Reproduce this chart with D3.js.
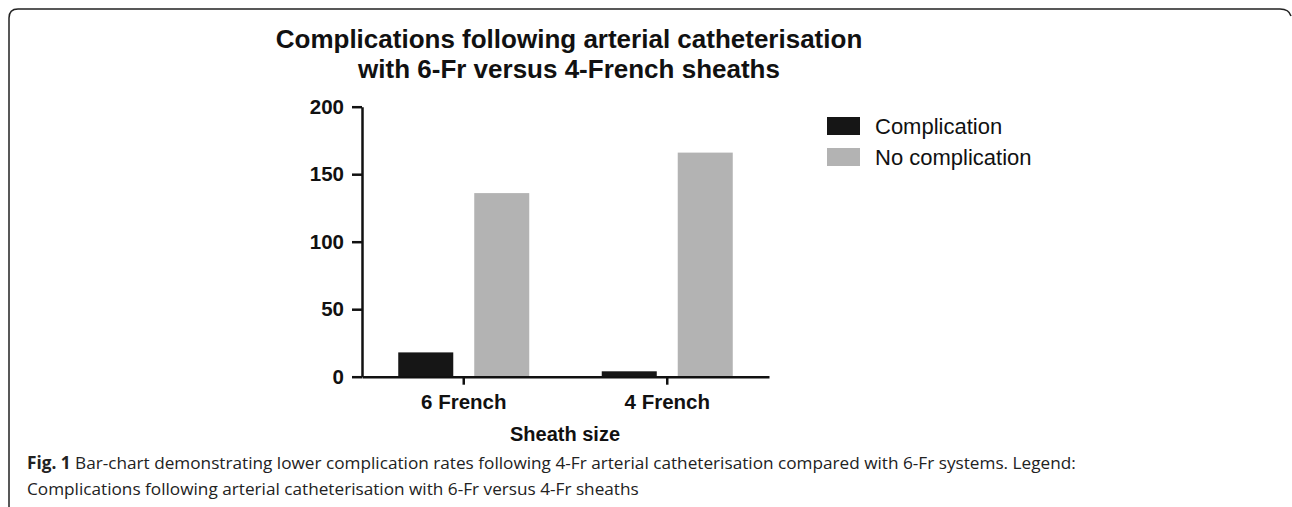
<!DOCTYPE html>
<html>
  <head>
    <meta charset='utf-8'>
    <script src='https://d3js.org/d3.v7.min.js'></script>
    <style>
body {
  margin: 0;
  background: #fff;
}
    </style>
  </head>
  <body>
    <div id='chart'></div>
    <script>
        // data
        const categories = ['6 French', '4 French'];
        const seriesNames = ['Complication', 'No complication'];
        const complication = [18, 4];
        const noComplication = [136, 166];
        const yTicks = [0, 50, 100, 150, 200];
        const colors = ['#161616', '#b3b3b3'];

        const FONT = "'Liberation Sans', Arial, Helvetica, sans-serif";
        const width = 1292, height = 507;
        const svg = d3.select('#chart').append('svg')
            .attr('width', width)
            .attr('height', height);

        // frame around the figure (open at the bottom)
        svg.append('path')
            .attr('d', 'M9,507 L9,18 Q9,9 18,9 L1280,9 Q1289,9 1291,16')
            .attr('fill', 'none')
            .attr('stroke', '#222')
            .attr('stroke-width', 1.5);

        const x0 = d3.scaleBand()
            .domain(categories)
            .range([362, 769]);

        const x1 = d3.scaleBand()
            .domain(seriesNames)
            .range([0, x0.bandwidth()])
            .paddingInner(0.276)
            .paddingOuter(0.477);

        const y = d3.scaleLinear()
            .domain([0, 200])
            .range([376.7, 106.7]);

        const rows = categories.map((c, i) => ({
            cat: c,
            values: [complication[i], noComplication[i]]
        }));

        const groups = svg.selectAll('g.grp')
            .data(rows)
            .enter().append('g')
            .attr('class', 'grp')
            .attr('transform', d => 'translate(' + x0(d.cat) + ',0)');

        groups.selectAll('rect')
            .data(d => d.values.map((v, j) => ({ name: seriesNames[j], v: v, j: j })))
            .enter().append('rect')
            .attr('x', d => x1(d.name))
            .attr('width', x1.bandwidth())
            .attr('y', d => y(d.v))
            .attr('height', d => y(0) - y(d.v))
            .attr('fill', d => colors[d.j]);

        // y axis
        const yAxis = svg.append('g')
            .attr('transform', 'translate(362,0)')
            .call(d3.axisLeft(y).tickValues(yTicks).tickSize(10).tickSizeOuter(0).tickPadding(8));
        yAxis.attr('font-family', FONT);
        yAxis.select('.domain').attr('stroke', '#111').attr('stroke-width', 2.5);
        yAxis.selectAll('.tick line').attr('stroke', '#111').attr('stroke-width', 2.5);
        yAxis.selectAll('.tick text')
            .attr('font-size', 20.5)
            .attr('font-weight', 'bold')
            .attr('fill', '#111');

        // x axis
        const xAxis = svg.append('g')
            .attr('transform', 'translate(0,' + y(0) + ')')
            .call(d3.axisBottom(x0).tickSize(8).tickSizeOuter(0).tickPadding(10));
        xAxis.attr('font-family', FONT);
        xAxis.select('.domain').attr('stroke', '#111').attr('stroke-width', 2.5);
        xAxis.selectAll('.tick line').attr('stroke', '#111').attr('stroke-width', 2.5);
        xAxis.selectAll('.tick text')
            .attr('font-size', 20.5)
            .attr('font-weight', 'bold')
            .attr('fill', '#111');

        svg.append('text')
            .attr('x', 565)
            .attr('y', 441)
            .attr('text-anchor', 'middle')
            .attr('font-family', FONT)
            .attr('font-size', 20)
            .attr('font-weight', 'bold')
            .attr('fill', '#111')
            .text('Sheath size');

        // title
        const title = ['Complications following arterial catheterisation', 'with 6-Fr versus 4-French sheaths'];
        svg.selectAll('text.title')
            .data(title)
            .enter().append('text')
            .attr('class', 'title')
            .attr('x', 569)
            .attr('y', (d, i) => 48 + i * 30)
            .attr('text-anchor', 'middle')
            .attr('font-family', FONT)
            .attr('font-size', 26)
            .attr('font-weight', 'bold')
            .attr('fill', '#111')
            .text(d => d);

        // legend
        const legend = svg.selectAll('g.leg')
            .data(seriesNames)
            .enter().append('g')
            .attr('class', 'leg')
            .attr('transform', (d, i) => 'translate(827,' + (117 + i * 31) + ')');
        legend.append('rect')
            .attr('width', 33)
            .attr('height', 18)
            .attr('fill', (d, i) => colors[i]);
        legend.append('text')
            .attr('x', 48)
            .attr('y', 17)
            .attr('font-family', FONT)
            .attr('font-size', 22)
            .attr('fill', '#111')
            .text(d => d);

        // caption
        const CAPFONT = "'Open Sans', sans-serif";
        const cap1 = svg.append('text')
            .attr('x', 27)
            .attr('y', 469)
            .attr('font-family', CAPFONT)
            .attr('font-size', 17.2)
            .attr('fill', '#222');
        cap1.append('tspan').attr('font-weight', 'bold').text('Fig. 1');
        cap1.append('tspan').text(' Bar-chart demonstrating lower complication rates following 4-Fr arterial catheterisation compared with 6-Fr systems. Legend:');
        svg.append('text')
            .attr('x', 27)
            .attr('y', 495)
            .attr('font-family', CAPFONT)
            .attr('font-size', 17.2)
            .attr('fill', '#222')
            .text('Complications following arterial catheterisation with 6-Fr versus 4-Fr sheaths');
    </script>
  </body>
</html>
